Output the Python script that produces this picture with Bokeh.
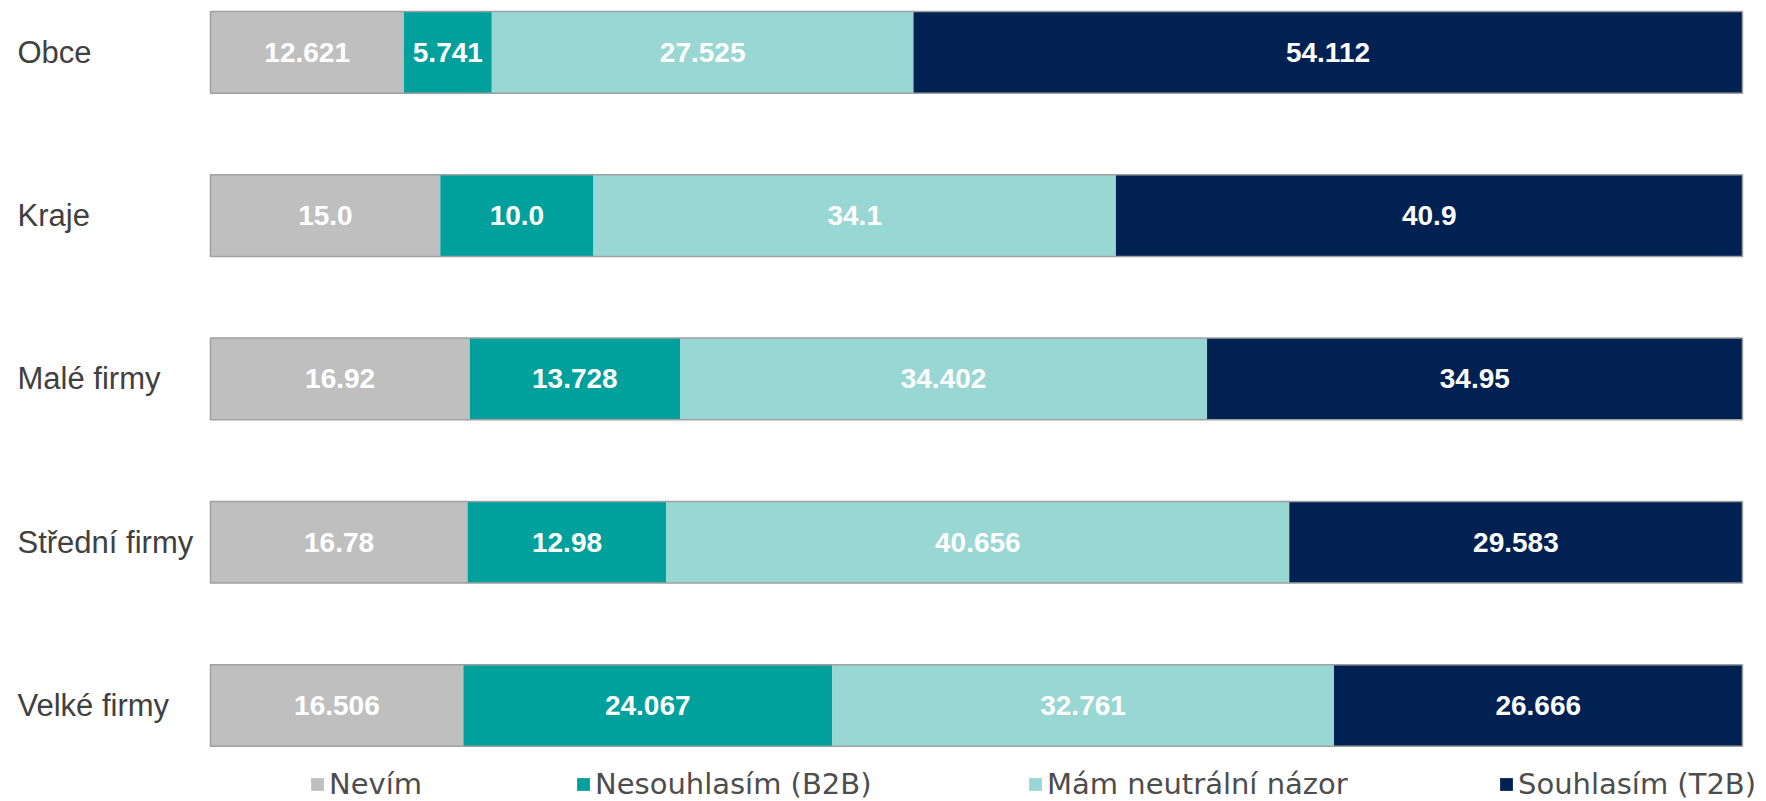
from bokeh.plotting import figure
from bokeh.models import ColumnDataSource, Range1d, Legend, LegendItem
from bokeh.core.properties import value
from bokeh.embed import file_html
from bokeh.resources import INLINE

# ---- data ----
categories = ["Obce", "Kraje", "Malé firmy", "Střední firmy", "Velké firmy"]
series_names = ["Nevím", "Nesouhlasím (B2B)", "Mám neutrální názor", "Souhlasím (T2B)"]
nevim = [12.621, 15.0, 16.92, 16.78, 16.506]
nesouhlasim = [5.741, 10.0, 13.728, 12.98, 24.067]
neutralni = [27.525, 34.1, 34.402, 40.656, 32.761]
souhlasim = [54.112, 40.9, 34.95, 29.583, 26.666]
colors = ["#BFBFBF", "#00A19C", "#98D7D3", "#002152"]

series = [nevim, nesouhlasim, neutralni, souhlasim]
keys = ["s0", "s1", "s2", "s3"]

# ---- layout ----
W, H = 1766, 801
BAR_L, BAR_R = 210, 1742          # pixel extent of 0..100
PX = (BAR_R - BAR_L) / 100.0
X0 = -BAR_L / PX
X1 = 100 + (W - BAR_R) / PX
PITCH = 163.3
TOP_C = 51.8                      # pixel centre of first row
Y_END = -TOP_C / PITCH
Y_START = (len(categories) - 1) + (H - (TOP_C + PITCH * (len(categories) - 1))) / PITCH

ys = list(range(len(categories)))
data = dict(y=ys, cat=categories)
for k, s in zip(keys, series):
    data[k] = s
source = ColumnDataSource(data)

p = figure(width=W, height=H, output_backend="svg", toolbar_location=None,
           x_range=Range1d(X0, X1), y_range=Range1d(Y_START, Y_END),
           min_border=0, min_border_left=0, min_border_right=0,
           min_border_top=0, min_border_bottom=0)
p.xaxis.visible = False
p.yaxis.visible = False
p.grid.visible = False
p.outline_line_color = None
p.background_fill_color = "white"
p.border_fill_color = "white"

renderers = p.hbar_stack(keys, y="y", height=0.5, color=colors, source=source,
                         line_color=None)

# outline around each full bar
totals = [sum(v) for v in zip(*series)]
osrc = ColumnDataSource(dict(y=ys, right=totals))
p.hbar(y="y", left=0, right="right", height=0.5, source=osrc,
       fill_color=None, line_color="#A0A0A0", line_width=1.5)

# value labels
lx, ly, lt = [], [], []
for i in range(len(categories)):
    left = 0.0
    for s in series:
        v = s[i]
        lx.append(left + v / 2)
        ly.append(i)
        lt.append(str(v))
        left += v
lsrc = ColumnDataSource(dict(x=lx, y=ly, t=lt))
p.text(x="x", y="y", text="t", source=lsrc, text_color="white",
       text_font=value("Liberation Sans"), text_font_style="bold",
       text_font_size="28px", text_align="center", text_baseline="middle")

# category labels (left aligned)
cx = [X0 + 17 / PX] * len(categories)
csrc = ColumnDataSource(dict(x=cx, y=ys, t=categories))
p.text(x="x", y="y", text="t", source=csrc, text_color="#404040",
       text_font=value("Liberation Sans"), text_font_size="31px",
       text_align="left", text_baseline="middle")

# legends
legend_x = [309, 575, 1027, 1498]
for r, name, lxp in zip(renderers, series_names, legend_x):
    lg = Legend(items=[LegendItem(label=name, renderers=[r])],
                location=(lxp, 0), orientation="horizontal",
                padding=0, margin=0, spacing=0,
                glyph_width=16, glyph_height=16, label_standoff=4,
                label_text_font="DejaVu Sans", label_text_font_size="29px",
                label_text_color="#4D4D4D",
                background_fill_alpha=0, border_line_color=None)
    p.add_layout(lg, "center")

open("out.html", "w").write(file_html(p, INLINE))
